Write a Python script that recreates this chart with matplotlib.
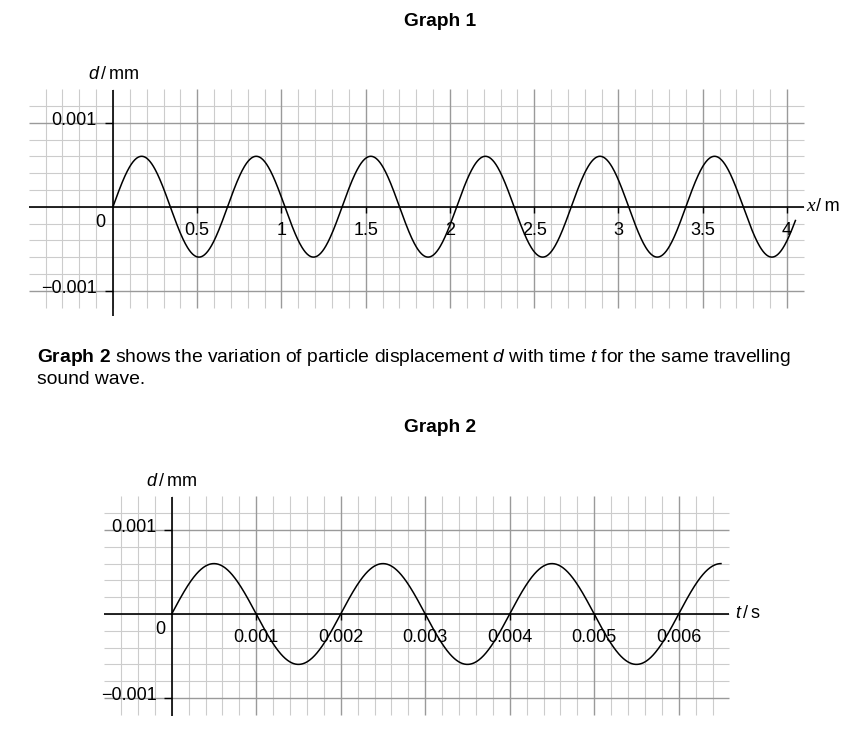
import numpy as np
import matplotlib
matplotlib.use('Agg')
from matplotlib import pyplot as plt

plt.rcParams['font.family'] = ['Liberation Sans', 'DejaVu Sans']
plt.rcParams['mathtext.fontset'] = 'custom'
plt.rcParams['mathtext.rm'] = 'Liberation Sans'
plt.rcParams['mathtext.it'] = 'Liberation Sans:italic'
plt.rcParams['mathtext.bf'] = 'Liberation Sans:bold'

# values
amplitude = 0.0006          # mm
wavelength = 0.68           # m
period = 0.002              # s
x_end = 4.05                # m, where graph 1 curve stops
t_end = 0.0065              # s, where graph 2 curve stops

x_ticks = [0.5, 1, 1.5, 2, 2.5, 3, 3.5, 4]
x_tick_labels = ['0.5', '1', '1.5', '2', '2.5', '3', '3.5', '4']
t_ticks = [0.001, 0.002, 0.003, 0.004, 0.005, 0.006]
t_tick_labels = ['0.001', '0.002', '0.003', '0.004', '0.005', '0.006']
d_ticks = [0.001, -0.001]
d_tick_labels = ['0.001', '\u22120.001']

W, H = 850, 730
fig = plt.figure(figsize=(W / 100, H / 100), dpi=100)

MINOR = '#cccccc'
MAJOR = '#9a9a9a'
FS = 13


def make_axes(box, x0px, xscale, y0px, yscale):
    # box in pixels (left, top, right, bottom); data -> px: px = x0px + xscale*x
    l, t, r, b = box
    ax = fig.add_axes([l / W, 1 - b / H, (r - l) / W, (b - t) / H])
    ax.set_xlim((l - x0px) / xscale, (r - x0px) / xscale)
    ax.set_ylim((y0px - b) / yscale, (y0px - t) / yscale)
    ax.axis('off')
    return ax


def draw_grid(ax, vx, vlo, vhi, hy, hlo, hhi, vmajor, hmajor):
    for x in vx:
        major = any(abs(x - m) < 1e-9 for m in vmajor)
        ax.vlines(x, vlo, vhi, color=MAJOR if major else MINOR,
                  lw=1.0 if major else 0.8, zorder=1 if major else 0)
    for y in hy:
        major = any(abs(y - m) < 1e-12 for m in hmajor)
        ax.hlines(y, hlo, hhi, color=MAJOR if major else MINOR,
                  lw=1.0 if major else 0.8, zorder=1 if major else 0)


# ---------------- Graph 1 ----------------
ax1 = make_axes((15, 80, 850, 325), 113, 168.5, 206.7, 84000)
cell_x = 0.1
cell_d = 0.0002
vx = np.round(np.arange(-0.4, 4.0001, cell_x), 6)
hy = np.round(np.arange(-0.001, 0.00121, cell_d), 8)
draw_grid(ax1, vx, -0.0012, 0.0014, hy, -0.5, 4.1,
          [0.5 * k for k in range(1, 9)], [0.001, -0.001])
ax1.hlines(0, -0.5, 4.1, color='black', lw=1.2, zorder=3)
ax1.vlines(0, -0.0013, 0.00139, color='black', lw=1.2, zorder=3)
tick1_x = 6 / 84000
tick1_y = 8 / 168.5
ax1.vlines(x_ticks, -tick1_x, 0, color='black', lw=1.0, zorder=3)
ax1.hlines(d_ticks, -tick1_y, 0, color='black', lw=1.0, zorder=3)
xs = np.linspace(0, x_end, 1200)
ax1.plot(xs, amplitude * np.sin(2 * np.pi * xs / wavelength), color='black', lw=1.1, zorder=4)
for v, s in zip(x_ticks, x_tick_labels):
    ax1.text(v, -24 / 84000, s, ha='center', va='center', fontsize=FS, zorder=2)
for v, s in zip(d_ticks, d_tick_labels):
    ax1.text(-16 / 168.5, v + 2 / 84000, s, ha='right', va='center', fontsize=FS)
ax1.text(-13 / 168.5, -16 / 84000, '0', ha='center', va='center', fontsize=FS)
ax1.text(0, 132 / 84000, r'$d\,/\,\mathrm{mm}$', ha='center', va='center', fontsize=FS)
ax1.text(4.115, 0, 'x', family='Liberation Serif', style='italic', ha='left',
         va='center', fontsize=14)
ax1.annotate('/\u2009m', xy=(4.115, 0), xytext=(10, 0), textcoords='offset pixels',
             ha='left', va='center', fontsize=FS)

# ---------------- Graph 2 ----------------
ax2 = make_axes((90, 465, 850, 725), 171.7, 84500, 614, 84000)
cell_t = 0.0002
vt = np.round(np.arange(-0.0006, 0.00641, cell_t), 8)
draw_grid(ax2, vt, -0.0012, 0.0014, hy, -0.0008, 0.0066,
          [0.001 * k for k in range(1, 7)], [0.001, -0.001])
ax2.hlines(0, -0.0008, 0.0066, color='black', lw=1.2, zorder=3)
ax2.vlines(0, -0.00122, 0.00139, color='black', lw=1.2, zorder=3)
tick2_y = 8 / 84500
ax2.vlines(t_ticks, -tick1_x, 0, color='black', lw=1.0, zorder=3)
ax2.hlines(d_ticks, -tick2_y, 0, color='black', lw=1.0, zorder=3)
ts = np.linspace(0, t_end, 1200)
ax2.plot(ts, amplitude * np.sin(2 * np.pi * ts / period), color='black', lw=1.1, zorder=4)
for v, s in zip(t_ticks, t_tick_labels):
    ax2.text(v, -23 / 84000, s, ha='center', va='center', fontsize=FS, zorder=2)
for v, s in zip(d_ticks, d_tick_labels):
    ax2.text(-15 / 84500, v + 2 / 84000, s, ha='right', va='center', fontsize=FS)
ax2.text(-11 / 84500, -15 / 84000, '0', ha='center', va='center', fontsize=FS)
ax2.text(0, 133 / 84000, r'$d\,/\,\mathrm{mm}$', ha='center', va='center', fontsize=FS)
ax2.text(0.00667, 0, r'$t\,/\,\mathrm{s}$', ha='left', va='center', fontsize=FS)

# ---------------- text ----------------
fig.text(440 / W, 1 - 22 / H, 'Graph 1', ha='center', va='center', fontsize=13.8,
         fontweight='bold')
fig.text(37 / W, 1 - 358 / H,
         r'$\mathbf{Graph\ 2}$ shows the variation of particle displacement $d$ with time $t$'
         r' for the same travelling', ha='left', va='center', fontsize=13.9)
fig.text(37 / W, 1 - 380 / H, 'sound wave.', ha='left', va='center', fontsize=13.9)
fig.text(440 / W, 1 - 428 / H, 'Graph 2', ha='center', va='center', fontsize=13.8,
         fontweight='bold')

fig.savefig('out.png', dpi=100)
